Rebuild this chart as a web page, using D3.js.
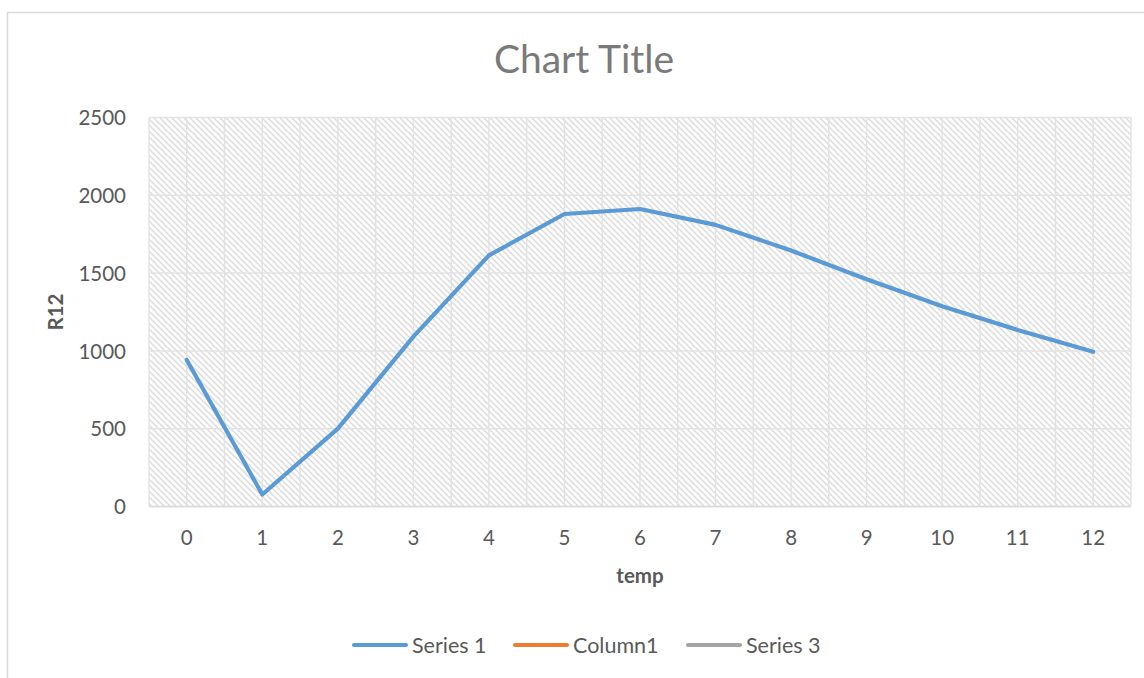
<!DOCTYPE html>
<html><head><meta charset="utf-8">
<script src="https://cdn.jsdelivr.net/npm/d3@7"></script>
<style>
html,body{margin:0;padding:0;background:#fff;}
svg{display:block;}
text{font-family:Lato,"Open Sans",sans-serif;}
</style></head>
<body>
<svg id="chart" width="1144" height="678"></svg>
<script>
const categories = [0,1,2,3,4,5,6,7,8,9,10,11,12];
const series1 = [942, 77, 500, 1092, 1614, 1880, 1912, 1810, 1645, 1460, 1287, 1135, 995];
const yTicks = [0, 500, 1000, 1500, 2000, 2500];
const legendItems = [
  {name: "Series 1", color: "#5b9bd5"},
  {name: "Column1", color: "#ed7d31"},
  {name: "Series 3", color: "#a5a5a5"}
];
const titleText = "Chart Title";
const xTitle = "temp";
const yTitle = "R12";

const svg = d3.select("#chart");
const m = {left:149, top:117.5, right:1131, bottom:506.5};

// outer border
svg.append("rect").attr("x",7.5).attr("y",12.5).attr("width",1150).attr("height",700)
  .attr("fill","#fff").attr("stroke","#d9d9d9").attr("stroke-width",1.5);

// pattern
const defs = svg.append("defs");
const pat = defs.append("pattern").attr("id","hatch").attr("patternUnits","userSpaceOnUse")
  .attr("width",6).attr("height",6);
pat.append("rect").attr("width",6).attr("height",6).attr("fill","#fff");
pat.append("path").attr("d","M-1,-1 L7,7 M-4,2 L1,7 M5,-1 L7,1")
  .attr("stroke","#dcdcdc").attr("stroke-width",1.5);

const x = d3.scaleBand().domain(categories).range([m.left, m.right]).paddingInner(0).paddingOuter(0);
const y = d3.scaleLinear().domain([0,2500]).range([m.bottom, m.top]);

svg.append("rect").attr("x",m.left).attr("y",m.top).attr("width",m.right-m.left).attr("height",m.bottom-m.top)
  .attr("fill","url(#hatch)");

// vertical gridlines at boundaries and centers
const vlines = [];
categories.forEach(c => { vlines.push(x(c)); vlines.push(x(c)+x.bandwidth()/2); });
vlines.push(m.right);
svg.append("g").selectAll("line").data(vlines).join("line")
  .attr("x1",d=>d).attr("x2",d=>d).attr("y1",m.top).attr("y2",m.bottom)
  .attr("stroke","#e3e3e3").attr("stroke-width",1.5);
// horizontal gridlines
svg.append("g").selectAll("line").data(yTicks).join("line")
  .attr("x1",m.left).attr("x2",m.right).attr("y1",d=>y(d)).attr("y2",d=>y(d))
  .attr("stroke","#e3e3e3").attr("stroke-width",1.5);
// bottom axis line
svg.append("line").attr("x1",m.left).attr("x2",m.right).attr("y1",m.bottom).attr("y2",m.bottom)
  .attr("stroke","#d9d9d9").attr("stroke-width",1.5);

// y tick labels
const yAxis = d3.axisLeft(y).tickValues(yTicks).tickSize(0).tickPadding(0).tickFormat(d3.format("d"));
const gy = svg.append("g").attr("transform",`translate(${126},0)`).call(yAxis);
gy.select(".domain").remove();
gy.selectAll("text").attr("font-size",20.5).attr("fill","#595959").attr("font-family","Lato").attr("dy","0.35em");

// x tick labels
const xAxis = d3.axisBottom(x).tickSize(0).tickPadding(0);
const gx = svg.append("g").attr("transform",`translate(0,${530})`).call(xAxis);
gx.select(".domain").remove();
gx.selectAll("text").attr("font-size",20.5).attr("fill","#595959").attr("font-family","Lato").attr("dy","0.75em");

// line
const line = d3.line().x((d,i)=>x(categories[i])+x.bandwidth()/2).y(d=>y(d));
svg.append("path").datum(series1).attr("d",line).attr("fill","none")
  .attr("stroke","#5b9bd5").attr("stroke-width",4.2).attr("stroke-linejoin","round").attr("stroke-linecap","round");

// title
svg.append("text").attr("x",584).attr("y",73).attr("text-anchor","middle")
  .attr("font-size",39).attr("fill","#7a7a7a").text(titleText);
// axis titles
svg.append("text").attr("x",(m.left+m.right)/2).attr("y",583).attr("text-anchor","middle")
  .attr("font-size",20.5).attr("font-weight","bold").attr("fill","#595959").text(xTitle);
svg.append("text").attr("transform",`translate(63,${(m.top+m.bottom)/2}) rotate(-90)`).attr("text-anchor","middle")
  .attr("font-size",20.5).attr("font-weight","bold").attr("fill","#595959").text(yTitle);

// legend
const legX = [353, 514, 687];
const lg = svg.append("g").selectAll("g").data(legendItems).join("g")
  .attr("transform",(d,i)=>`translate(${legX[i]},645)`);
lg.append("line").attr("x1",1).attr("x2",53).attr("y1",0).attr("y2",0)
  .attr("stroke",d=>d.color).attr("stroke-width",4.2).attr("stroke-linecap","round");
lg.append("text").attr("x",59).attr("y",0).attr("dy","0.35em").attr("font-size",21.5)
  .attr("fill","#595959").text(d=>d.name);
</script>
</body></html>
